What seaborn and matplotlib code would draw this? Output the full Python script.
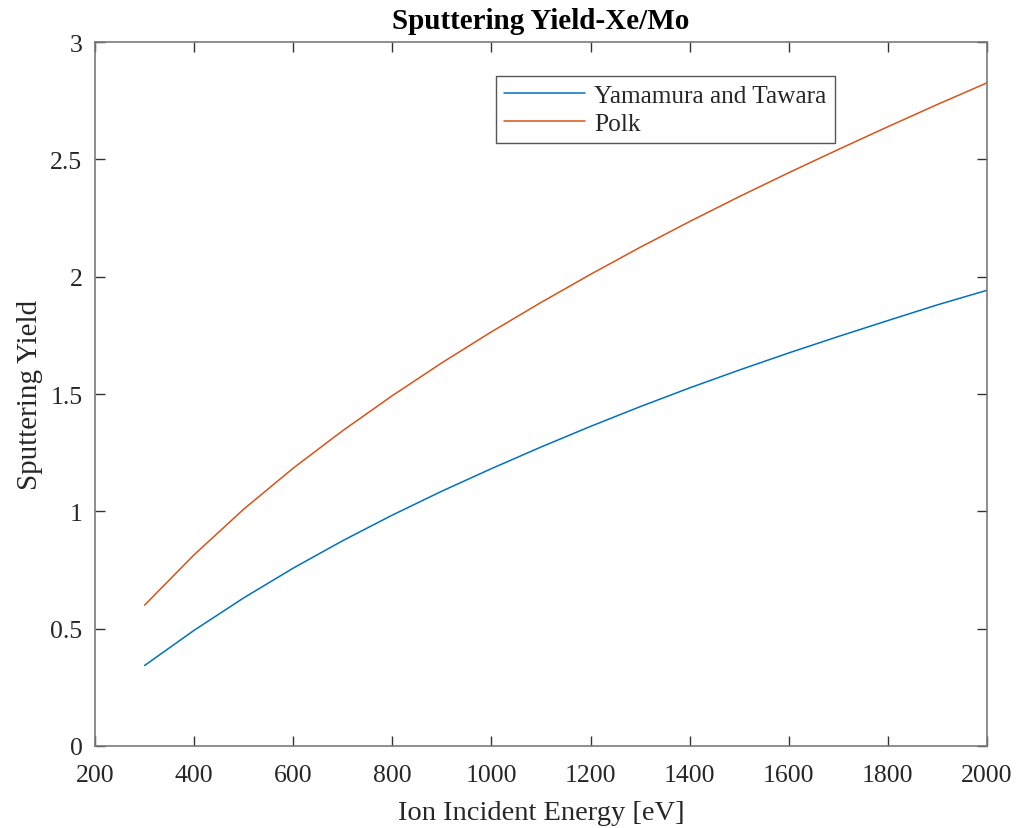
import numpy as np
import pandas as pd
import matplotlib
matplotlib.use("Agg")
import matplotlib.pyplot as plt
import seaborn as sns

# Ion incident energy [eV]
energy = [300, 400, 500, 600, 700, 800, 900, 1000, 1100, 1200, 1300, 1400,
          1500, 1600, 1700, 1800, 1900, 2000]

# Sputtering yield, Yamamura and Tawara model
yield_yamamura = [0.343, 0.493, 0.631, 0.758, 0.875, 0.984, 1.086, 1.182, 1.274,
                  1.362, 1.446, 1.526, 1.602, 1.675, 1.745, 1.813, 1.880, 1.942]

# Sputtering yield, Polk model
yield_polk = [0.600, 0.815, 1.009, 1.184, 1.344, 1.493, 1.633, 1.765, 1.890,
              2.010, 2.125, 2.235, 2.341, 2.443, 2.542, 2.639, 2.734, 2.826]

series_names = ["Yamamura and Tawara", "Polk"]
series_colors = ["#0072BD", "#D95319"]

x_ticks = [200, 400, 600, 800, 1000, 1200, 1400, 1600, 1800, 2000]
y_ticks = [0, 0.5, 1, 1.5, 2, 2.5, 3]
y_tick_labels = ["0", "0.5", "1", "1.5", "2", "2.5", "3"]

df = pd.DataFrame({
    "Energy": energy * 2,
    "Yield": yield_yamamura + yield_polk,
    "Model": [series_names[0]] * len(energy) + [series_names[1]] * len(energy),
})

sns.set_theme(style="ticks")
plt.rcParams["font.family"] = ["Liberation Serif", "DejaVu Serif"]

fig = plt.figure(figsize=(10.2, 8.29), dpi=100)
ax = fig.add_axes([95 / 1020, 1 - 747 / 829, (987 - 95) / 1020, (747 - 43) / 829])

sns.lineplot(data=df, x="Energy", y="Yield", hue="Model",
             hue_order=series_names, palette=series_colors,
             linewidth=1.1, ax=ax, legend=True)

ax.set_xlim(200, 2000)
ax.set_ylim(0, 3)
ax.set_xticks(x_ticks)
ax.set_xticklabels([str(t) for t in x_ticks])
ax.set_yticks(y_ticks)
ax.set_yticklabels(y_tick_labels)

axis_grey = "#7a7a7a"
for side in ["top", "right", "bottom", "left"]:
    ax.spines[side].set_visible(True)
    ax.spines[side].set_color(axis_grey)
    ax.spines[side].set_linewidth(1.2)

ax.tick_params(axis="both", which="major", direction="in", length=7,
               width=1.0, color="#333333", labelsize=18.5, labelcolor="#262626",
               top=True, right=True)
ax.tick_params(axis="x", pad=13)
ax.tick_params(axis="y", pad=9)

ax.set_xlabel("Ion Incident Energy [eV]", fontsize=20.5, color="#262626", labelpad=10)
ax.set_ylabel("Sputtering Yield", fontsize=21, color="#262626", labelpad=5)
ax.set_title("Sputtering Yield-Xe/Mo", fontsize=21, fontweight="bold",
             color="black", pad=10)

handles, labels = ax.get_legend_handles_labels()
ax.legend(handles, labels, loc="upper left",
          bbox_to_anchor=(496 / 1020, 1 - 77 / 829), bbox_transform=fig.transFigure,
          borderaxespad=0, fontsize=18.3, frameon=True, fancybox=False,
          edgecolor="#555555", framealpha=1, handlelength=3.2, handletextpad=0.35,
          borderpad=0.32, labelspacing=0.2)
ax.get_legend().get_frame().set_linewidth(1.0)

fig.savefig("out.png", dpi=100)
